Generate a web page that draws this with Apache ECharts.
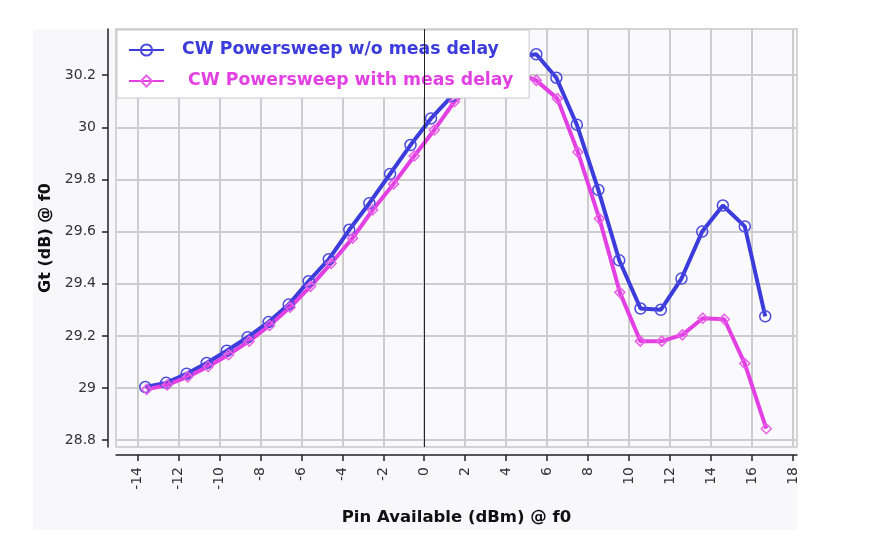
<!DOCTYPE html>
<html>
<head>
<meta charset="utf-8">
<title>Gt vs Pin</title>
<script src="https://cdn.jsdelivr.net/npm/echarts@6/dist/echarts.min.js"></script>
<style>
  html, body { margin: 0; padding: 0; background: #ffffff; }
  #chart { width: 871px; height: 548px; }
</style>
</head>
<body>
<div id="chart"></div>
<script>
// data
var pinNoDelay = [-13.62, -12.6, -11.6, -10.62, -9.64, -8.62, -7.6, -6.62, -5.64, -4.66, -3.66, -2.68, -1.67, -0.67, 0.33, 1.35, 2.38, 3.4, 4.43, 5.47, 6.45, 7.45, 8.5, 9.52, 10.56, 11.55, 12.56, 13.57, 14.58, 15.65, 16.65]
var gtNoDelay = [29.004, 29.02, 29.055, 29.096, 29.143, 29.195, 29.253, 29.32, 29.41, 29.494, 29.607, 29.709, 29.821, 29.932, 30.034, 30.12, 30.19, 30.24, 30.27, 30.28, 30.19, 30.01, 29.76, 29.49, 29.305, 29.3, 29.42, 29.6, 29.7, 29.62, 29.275]
var pinDelay = [-13.55, -12.55, -11.55, -10.55, -9.55, -8.55, -7.55, -6.55, -5.55, -4.55, -3.5, -2.52, -1.5, -0.49, 0.49, 1.47, 2.47, 3.47, 4.47, 5.47, 6.5, 7.5, 8.55, 9.55, 10.55, 11.6, 12.6, 13.6, 14.65, 15.65, 16.7]
var gtDelay = [28.995, 29.012, 29.043, 29.083, 29.128, 29.18, 29.24, 29.31, 29.39, 29.478, 29.575, 29.683, 29.783, 29.89, 29.99, 30.098, 30.165, 30.205, 30.21, 30.18, 30.11, 29.905, 29.65, 29.367, 29.18, 29.18, 29.204, 29.268, 29.264, 29.094, 28.844]
var xTicks = [-14, -12, -10, -8, -6, -4, -2, 0, 2, 4, 6, 8, 10, 12, 14, 16, 18]
var yTicks = [28.8, 29, 29.2, 29.4, 29.6, 29.8, 30, 30.2]
var nameNoDelay = 'CW Powersweep w/o meas delay'
var nameDelay = ' CW Powersweep with meas delay'

var blue = '#3c3cdc'
var pink = '#e340e3'

function pairs (xs, ys) {
  return xs.map(function (x, i) { return [x, ys[i]] })
}

var chart = echarts.init(document.getElementById('chart'))
chart.setOption({
  animation: false,
  backgroundColor: '#ffffff',
  textStyle: { fontFamily: 'DejaVu Sans' },
  graphic: [
    {
      type: 'rect',
      z: -10,
      shape: { x: 33, y: 29, width: 764, height: 501 },
      style: { fill: '#f8f8fa' }
    }
  ],
  grid: {
    left: 116,
    top: 29,
    right: 74,
    bottom: 101,
    show: true,
    backgroundColor: '#fafafc',
    borderColor: '#c8c8c8',
    borderWidth: 1.5
  },
  legend: {
    orient: 'vertical',
    left: 117,
    top: 30,
    backgroundColor: '#ffffff',
    borderColor: '#c8c8c8',
    borderWidth: 1,
    padding: [10, 16, 7, 11],
    itemWidth: 35,
    itemHeight: 14,
    itemGap: 11,
    textStyle: {
      fontFamily: 'DejaVu Sans',
      fontWeight: 'bold',
      fontSize: 17.3,
      lineHeight: 20,
      padding: [0, 0, 0, 13]
    },
    data: [
      { name: nameNoDelay, textStyle: { color: blue } },
      { name: nameDelay, textStyle: { color: pink } }
    ]
  },
  xAxis: {
    type: 'value',
    min: -15.05,
    max: 18.2,
    offset: 8,
    name: 'Pin Available (dBm) @ f0',
    nameLocation: 'middle',
    nameGap: 54,
    nameTextStyle: { fontFamily: 'DejaVu Sans', fontWeight: 'bold', fontSize: 16.5, color: '#111' },
    axisLine: { show: true, onZero: false, lineStyle: { color: '#222', width: 1.5 } },
    axisTick: { show: true, length: 6, customValues: xTicks, lineStyle: { color: '#222', width: 1.5 } },
    axisLabel: { customValues: xTicks, rotate: 90, margin: 12, fontSize: 14, color: '#333' },
    splitLine: { show: true, lineStyle: { color: '#cdcdcd', width: 2 } }
  },
  yAxis: {
    type: 'value',
    min: 28.774,
    max: 30.377,
    offset: 8,
    name: 'Gt (dB) @ f0',
    nameLocation: 'middle',
    nameGap: 50,
    nameTextStyle: { fontFamily: 'DejaVu Sans', fontWeight: 'bold', fontSize: 16, color: '#111' },
    axisLine: { show: true, onZero: false, lineStyle: { color: '#222', width: 1.5 } },
    axisTick: { show: true, length: 6, customValues: yTicks, lineStyle: { color: '#222', width: 1.5 } },
    axisLabel: { customValues: yTicks, margin: 12, fontSize: 14, color: '#333' },
    splitLine: { show: true, lineStyle: { color: '#cdcdcd', width: 2 } }
  },
  series: [
    {
      name: nameNoDelay,
      type: 'line',
      data: pairs(pinNoDelay, gtNoDelay),
      symbol: 'circle',
      symbolSize: 11,
      lineStyle: { color: blue, width: 4 },
      itemStyle: { color: 'rgba(255,255,255,0)', borderColor: '#4a4ae0', borderWidth: 1.5 },
      markLine: {
        silent: true,
        symbol: ['none', 'none'],
        label: { show: false },
        lineStyle: { color: '#222', width: 1, type: 'solid' },
        data: [{ xAxis: 0 }]
      }
    },
    {
      name: nameDelay,
      type: 'line',
      data: pairs(pinDelay, gtDelay),
      symbol: 'diamond',
      symbolSize: 10,
      lineStyle: { color: pink, width: 4 },
      itemStyle: { color: 'rgba(255,255,255,0)', borderColor: '#e860e8', borderWidth: 1.5 }
    }
  ]
})
</script>
</body>
</html>
